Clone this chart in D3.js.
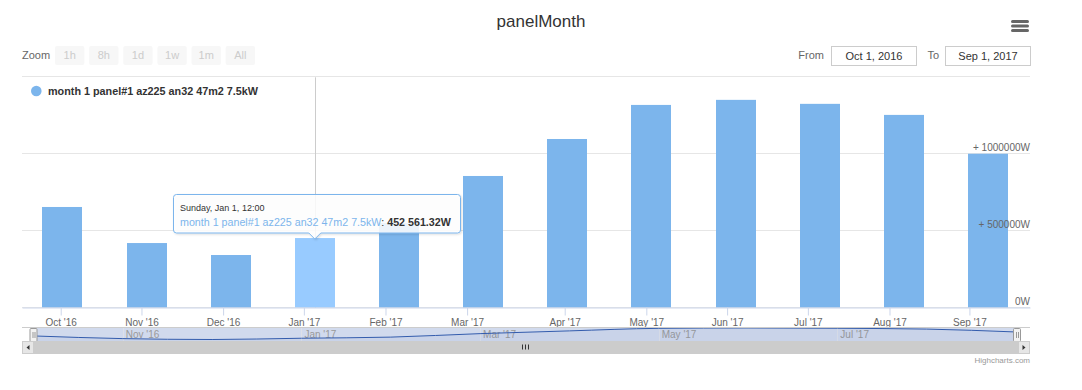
<!DOCTYPE html>
<html><head><meta charset="utf-8">
<script src="https://cdn.jsdelivr.net/npm/d3@7"></script>
<style>
body{margin:0;background:#fff;}
svg{font-family:"Liberation Sans",Arial,Helvetica,sans-serif;display:block;}
</style></head>
<body><svg id="c" width="1082" height="390"></svg>
<script>
// ---- data ----
const categories = ["Oct '16","Nov '16","Dec '16","Jan '17","Feb '17","Mar '17","Apr '17","May '17","Jun '17","Jul '17","Aug '17","Sep '17"];
const values = [655000, 420000, 342000, 452561.32, 551000, 857000, 1098000, 1320000, 1353000, 1327000, 1255000, 1002000];
const tickIndex = [-0.02, 0.94, 1.91, 2.87, 3.84, 4.81, 5.97, 6.94, 7.90, 8.86, 9.83, 10.78];
const tickLabels = ["Oct '16","Nov '16","Dec '16","Jan '17","Feb '17","Mar '17","Apr '17","May '17","Jun '17","Jul '17","Aug '17","Sep '17"];
const yTicks = [0, 500000, 1000000, 1500000];
const yTickLabels = ["0W", "+ 500000W", "+ 1000000W", ""];
const navTickIndex = [1, 3, 5, 7, 9];
const navTickLabels = ["Nov '16","Jan '17","Mar '17","May '17","Jul '17"];
const zoomButtons = ["1h","8h","1d","1w","1m","All"];
const seriesName = "month 1 panel#1 az225 an32 47m2 7.5kW";
const hoverIndex = 3;
const tooltipHeader = "Sunday, Jan 1, 12:00";
const tooltipValue = "452 561.32W";

const svg = d3.select("#c");
const color = "#7cb5ec";

// title
svg.append("text").attr("x",541).attr("y",27).attr("text-anchor","middle")
  .attr("font-size",17).attr("fill","#333").text("panelMonth");

// menu icon
[21.5,26,30.5].forEach(y=>svg.append("line").attr("x1",1012.5).attr("x2",1027.5).attr("y1",y).attr("y2",y)
  .attr("stroke","#666").attr("stroke-width",3).attr("stroke-linecap","round"));

// range selector
svg.append("text").attr("x",22).attr("y",59).attr("font-size",11).attr("fill","#666").text("Zoom");
const bx = d3.scaleBand().domain(zoomButtons).range([55,255]).paddingInner(0.14).paddingOuter(0);
zoomButtons.forEach(b=>{
  svg.append("rect").attr("x",bx(b)).attr("y",46).attr("width",bx.bandwidth()).attr("height",19)
    .attr("rx",2).attr("fill","#f7f7f7");
  svg.append("text").attr("x",bx(b)+bx.bandwidth()/2).attr("y",59).attr("text-anchor","middle")
    .attr("font-size",11).attr("fill","#cccccc").text(b);
});
svg.append("text").attr("x",824).attr("y",59).attr("text-anchor","end").attr("font-size",11).attr("fill","#666").text("From");
svg.append("rect").attr("x",831.5).attr("y",46.5).attr("width",85).attr("height",19).attr("fill","#fff").attr("stroke","#cccccc");
svg.append("text").attr("x",874).attr("y",59.5).attr("text-anchor","middle").attr("font-size",11).attr("fill","#333").text("Oct 1, 2016");
svg.append("text").attr("x",939).attr("y",59).attr("text-anchor","end").attr("font-size",11).attr("fill","#666").text("To");
svg.append("rect").attr("x",945.5).attr("y",46.5).attr("width",85).attr("height",19).attr("fill","#fff").attr("stroke","#cccccc");
svg.append("text").attr("x",988).attr("y",59.5).attr("text-anchor","middle").attr("font-size",11).attr("fill","#333").text("Sep 1, 2017");

// scales
const plotL = 22, plotR = 1030, plotT = 77.3, plotB = 307.5;
const x = d3.scaleLinear().domain([-0.48, 11.5]).range([plotL, plotR]);
const y = d3.scaleLinear().domain([0, 1500000]).range([plotB, plotT]);

// gridlines
svg.append("g").selectAll("line").data(yTicks).join("line")
  .attr("x1",plotL).attr("x2",plotR).attr("y1",d=>Math.round(y(d))-0.5).attr("y2",d=>Math.round(y(d))-0.5)
  .attr("stroke","#e6e6e6");

// crosshair
svg.append("line").attr("x1",Math.round(x(hoverIndex))+0.5).attr("x2",Math.round(x(hoverIndex))+0.5)
  .attr("y1",plotT).attr("y2",plotB).attr("stroke","#cccccc");

// bars
const bw = 40;
svg.append("g").selectAll("rect").data(values).join("rect")
  .attr("x",(d,i)=>Math.round(x(i)-bw/2)).attr("width",bw)
  .attr("y",d=>y(d)).attr("height",d=>plotB-y(d))
  .attr("fill",(d,i)=>i===hoverIndex?"#98cbff":color);

// y labels
svg.append("g").selectAll("text").data(yTicks).join("text")
  .attr("x",1030).attr("y",d=>y(d)-3).attr("text-anchor","end").attr("font-size",10).attr("fill","#666")
  .text((d,i)=>yTickLabels[i]);

// x axis
const xAxis = d3.axisBottom(x).tickValues(tickIndex).tickFormat((d,i)=>tickLabels[i]).tickSize(8).tickSizeOuter(0).tickPadding(3);
const gx = svg.append("g").attr("transform",`translate(0,${plotB})`).call(xAxis);
gx.select(".domain").attr("stroke","#ccd6eb");
gx.selectAll(".tick line").attr("stroke","#ccd6eb");
gx.selectAll(".tick text").attr("fill","#666").attr("font-size",10).attr("font-family",null);

// legend
svg.append("circle").attr("cx",36.3).attr("cy",91).attr("r",5.3).attr("fill",color);
svg.append("text").attr("x",48).attr("y",95).attr("font-size",10.8).attr("font-weight","bold").attr("fill","#333").text(seriesName);

// navigator
const navT = 327, navB = 341;
const nx = d3.scaleLinear().domain([0, 11]).range([33.5, 1016]);
const ny = d3.scaleLinear().domain([0, 1500000]).range([343.4, 326.3]);
svg.append("rect").attr("x",plotL).attr("y",navT).attr("width",plotR-plotL).attr("height",navB-navT).attr("fill","#fff");
svg.append("rect").attr("x",nx(0)).attr("y",navT).attr("width",nx(11)-nx(0)).attr("height",navB-navT)
  .attr("fill","rgba(102,133,194,0.3)");
svg.append("g").selectAll("line").data(navTickIndex).join("line")
  .attr("x1",d=>Math.round(nx(d))+0.5).attr("x2",d=>Math.round(nx(d))+0.5).attr("y1",navT).attr("y2",navB)
  .attr("stroke","#e6e6e6").attr("stroke-opacity",0.6);
svg.append("g").selectAll("text").data(navTickIndex).join("text")
  .attr("x",d=>nx(d)+3).attr("y",337.5).attr("font-size",10).attr("fill","#999")
  .text((d,i)=>navTickLabels[i]);
const clip = svg.append("clipPath").attr("id","navclip").append("rect")
  .attr("x",plotL).attr("y",navT).attr("width",plotR-plotL).attr("height",navB-navT);
const area = d3.area().x((d,i)=>nx(i)).y0(navB).y1(d=>ny(d)).curve(d3.curveMonotoneX);
const line = d3.line().x((d,i)=>nx(i)).y(d=>ny(d)).curve(d3.curveMonotoneX);
svg.append("path").datum(values).attr("d",area).attr("fill","#335cad").attr("fill-opacity",0.05).attr("clip-path","url(#navclip)");
svg.append("path").datum(values).attr("d",line).attr("fill","none").attr("stroke","#335cad").attr("stroke-width",1).attr("clip-path","url(#navclip)");
svg.append("line").attr("x1",plotL).attr("x2",plotR).attr("y1",navT+0.5).attr("y2",navT+0.5).attr("stroke","#cccccc");
// handles
[nx(0), nx(11)+1].forEach(hx=>{
  svg.append("rect").attr("x",hx-3.5).attr("y",navT+1.5).attr("width",7).attr("height",13)
    .attr("rx",1).attr("fill","#f2f2f2").attr("stroke","#999");
  [-1,1].forEach(o=>svg.append("line").attr("x1",hx+o+0.5).attr("x2",hx+o+0.5).attr("y1",navT+5).attr("y2",navT+11).attr("stroke","#999"));
});

// scrollbar
const sT = 341, sH = 13;
svg.append("rect").attr("x",plotL).attr("y",sT).attr("width",plotR-plotL).attr("height",sH).attr("fill","#f2f2f2");
svg.append("rect").attr("x",plotL+12).attr("y",sT).attr("width",plotR-plotL-24).attr("height",sH).attr("fill","#cccccc");
[plotL, plotR-12].forEach((bxp,i)=>{
  svg.append("rect").attr("x",bxp+0.5).attr("y",sT+0.5).attr("width",11).attr("height",sH-1).attr("fill","#e6e6e6").attr("stroke","#cccccc");
  const cx = bxp+6, cy = sT+sH/2;
  const pts = i===0 ? [[cx+1.5,cy-2.5],[cx+1.5,cy+2.5],[cx-1.5,cy]] : [[cx-1.5,cy-2.5],[cx-1.5,cy+2.5],[cx+1.5,cy]];
  svg.append("path").attr("d","M"+pts.join("L")+"Z").attr("fill","#333");
});
[-3,0,3].forEach(o=>svg.append("line").attr("x1",525.5+o).attr("x2",525.5+o).attr("y1",sT+3.5).attr("y2",sT+8.5).attr("stroke","#333"));

// credits
svg.append("text").attr("x",1030).attr("y",363).attr("text-anchor","end").attr("font-size",8).attr("fill","#999").text("Highcharts.com");

// tooltip
const defs = svg.append("defs");
const f = defs.append("filter").attr("id","sh").attr("x","-10%").attr("y","-30%").attr("width","120%").attr("height","160%");
f.append("feDropShadow").attr("dx",1).attr("dy",1).attr("stdDeviation",1.2).attr("flood-color","#000").attr("flood-opacity",0.15);
const tx = x(hoverIndex);
const L=173.5, R=460.5, T=194.5, B=233, r=3, ay=239;
const tp = `M${L+r},${T}H${R-r}Q${R},${T} ${R},${T+r}V${B-r}Q${R},${B} ${R-r},${B}H${tx+6}L${tx},${ay}L${tx-6},${B}H${L+r}Q${L},${B} ${L},${B-r}V${T+r}Q${L},${T} ${L+r},${T}Z`;
svg.append("path").attr("d",tp).attr("fill","rgba(255,255,255,0.85)").attr("stroke",color).attr("stroke-width",1).attr("filter","url(#sh)");
svg.append("text").attr("x",180).attr("y",211).attr("font-size",9).attr("fill","#333").text(tooltipHeader);
const t2 = svg.append("text").attr("x",180).attr("y",226).attr("font-size",10.7).attr("fill","#333");
t2.append("tspan").attr("fill",color).text(seriesName);
t2.append("tspan").text(": ");
t2.append("tspan").attr("font-weight","bold").text(tooltipValue);
</script></body></html>
